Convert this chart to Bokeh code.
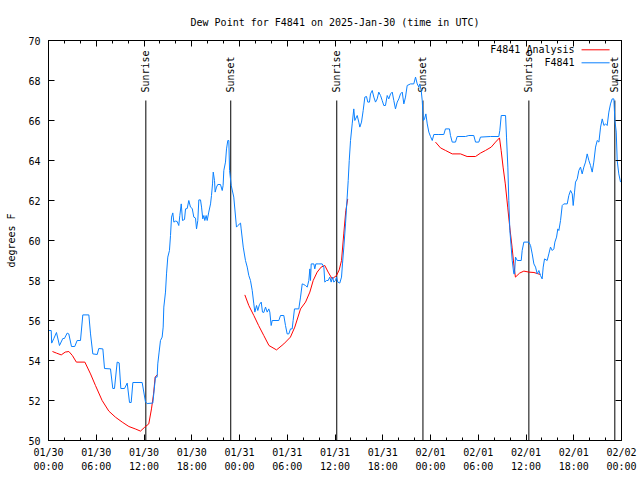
import math
from bokeh.plotting import figure
from bokeh.models import FixedTicker, LinearAxis, Range1d, Label, ColumnDataSource
from bokeh.core.properties import value
from bokeh.embed import file_html
from bokeh.resources import INLINE

# ---------------- data ----------------
TITLE = "Dew Point for F4841 on 2025-Jan-30 (time in UTC)"
STATION = "F4841"
ANALYSIS = "F4841 Analysis"

# x = hours since 01/30 00:00 UTC
x_ticks = [0, 6, 12, 18, 24, 30, 36, 42, 48, 54, 60, 66, 72]
x_tick_labels = ["01/30\n00:00", "01/30\n06:00", "01/30\n12:00", "01/30\n18:00",
                 "01/31\n00:00", "01/31\n06:00", "01/31\n12:00", "01/31\n18:00",
                 "02/01\n00:00", "02/01\n06:00", "02/01\n12:00", "02/01\n18:00",
                 "02/02\n00:00"]
x_minor = list(range(0, 73, 2))
y_ticks = [50, 52, 54, 56, 58, 60, 62, 64, 66, 68, 70]

# station observations (blue)
obs_hours = [
    0.04, 0.34, 0.40, 0.67, 1.00, 1.38, 1.80, 2.00, 2.35, 2.55,
    2.89, 3.30, 3.60, 4.02, 4.31, 5.07, 5.28, 5.57, 6.12, 6.32,
    6.83, 7.04, 7.79, 8.08, 8.29, 8.63, 8.88, 9.09, 9.55, 9.89,
    10.18, 10.39, 10.60, 11.77, 12.19, 12.40, 13.11, 13.44, 13.65, 13.73,
    13.90, 14.07, 14.28, 14.41, 14.49, 14.70, 14.83, 14.99, 15.20, 15.33,
    15.46, 15.62, 15.75, 15.96, 16.17, 16.37, 16.50, 16.68, 16.84, 17.09,
    17.22, 17.43, 17.63, 17.84, 18.06, 18.26, 18.47, 18.60, 18.76, 18.89,
    19.10, 19.23, 19.39, 19.52, 19.64, 19.81, 19.94, 20.14, 20.36, 20.48,
    20.61, 20.70, 20.86, 20.94, 21.11, 21.27, 21.61, 21.83, 21.94, 22.03,
    22.24, 22.37, 22.53, 22.66, 22.75, 22.96, 23.28, 23.62, 23.79, 24.13,
    24.21, 24.47, 24.75, 24.97, 25.17, 25.38, 25.60, 25.80, 25.93, 26.14,
    26.30, 26.51, 26.73, 26.89, 27.05, 27.27, 27.48, 27.68, 27.81, 27.98,
    28.11, 28.94, 29.15, 29.57, 29.78, 29.99, 30.20, 30.41, 30.62, 30.74,
    30.91, 31.45, 31.67, 31.88, 32.08, 32.29, 32.51, 32.71, 32.84, 32.92,
    33.01, 33.34, 33.46, 33.59, 33.97, 34.39, 34.60, 34.72, 34.93, 35.14,
    35.35, 35.52, 35.69, 35.85, 36.06, 36.19, 36.35, 36.60, 36.82, 36.94,
    37.11, 37.32, 37.53, 37.66, 37.79, 37.95, 38.16, 38.36, 38.49, 38.79,
    38.99, 39.12, 39.33, 39.54, 39.75, 39.96, 40.12, 40.33, 40.46, 40.68,
    40.88, 41.09, 41.30, 41.50, 41.72, 41.93, 42.13, 42.34, 42.56, 42.76,
    42.98, 43.19, 43.39, 43.60, 43.82, 44.02, 44.23, 44.45, 44.65, 44.86,
    45.07, 45.49, 45.90, 46.12, 46.33, 46.53, 46.66, 46.83, 46.96, 47.03,
    47.12, 47.25, 47.42, 47.59, 47.79, 48.00, 48.22, 48.42, 49.05, 49.67,
    49.88, 50.38, 50.51, 50.73, 51.14, 51.35, 52.40, 52.82, 53.44, 53.66,
    54.07, 54.28, 55.54, 56.58, 56.71, 56.89, 57.43, 57.55, 57.72, 57.84,
    57.97, 58.14, 58.27, 58.47, 58.56, 58.68, 58.90, 59.40, 59.52, 59.73,
    60.36, 60.57, 60.78, 60.99, 61.20, 61.41, 61.62, 61.82, 62.03, 62.16,
    62.33, 62.66, 62.87, 63.08, 63.30, 63.50, 63.63, 63.84, 64.00, 64.13,
    64.34, 64.55, 64.75, 65.18, 65.38, 65.60, 65.81, 65.93, 66.10, 66.22,
    66.44, 66.64, 66.85, 67.06, 67.27, 67.48, 67.69, 67.90, 68.11, 68.32,
    68.52, 68.74, 68.95, 69.16, 69.37, 69.58, 69.79, 70.00, 70.20, 70.41,
    70.62, 70.83, 71.04, 71.17, 71.34, 71.46, 71.66, 71.88,
]
obs_dewpoint = [
    55.5, 55.5, 54.87, 55.1, 55.4, 54.75, 55.1, 55.1, 55.37, 55.33,
    54.7, 54.7, 55.0, 55.0, 56.28, 56.28, 55.33, 54.33, 54.3, 54.6,
    54.58, 53.6, 53.58, 52.6, 52.6, 53.92, 53.88, 52.6, 52.6, 52.87,
    51.9, 51.9, 52.9, 52.9, 51.92, 51.85, 51.87, 53.17, 53.17, 53.83,
    54.42, 55.0, 55.17, 55.67, 56.67, 57.42, 58.33, 59.17, 59.5, 60.25,
    61.17, 61.38, 60.92, 60.97, 60.95, 60.75, 61.25, 61.83, 61.0, 61.05,
    61.58, 61.6, 62.0, 61.67, 61.6, 61.17, 61.12, 60.58, 61.0, 62.03,
    62.03, 61.67, 61.08, 61.25, 61.0, 61.25, 61.0, 61.42, 61.83, 62.25,
    62.83, 63.42, 63.0, 62.42, 62.67, 62.8, 62.8, 62.5, 62.75, 63.5,
    63.92, 64.58, 65.0, 65.0, 63.5, 62.75, 62.17, 60.67, 60.75, 60.87,
    60.58, 59.67, 59.0, 58.67, 58.25, 58.0, 57.5, 56.83, 56.42, 56.75,
    56.5, 56.8, 56.92, 56.42, 56.4, 56.67, 56.42, 56.58, 56.42, 55.75,
    56.0, 56.0, 56.25, 56.25, 55.75, 55.33, 55.33, 55.58, 55.58, 56.0,
    56.58, 56.58, 57.17, 57.83, 57.8, 57.75, 57.67, 58.0, 58.58, 58.0,
    58.83, 58.83, 58.58, 58.83, 58.83, 58.83, 58.67, 57.92, 58.0, 58.0,
    58.17, 57.92, 58.17, 57.92, 58.0, 58.17, 57.92, 57.87, 58.17, 58.83,
    59.67, 60.83, 62.17, 63.0, 64.0, 65.0, 65.83, 66.58, 66.0, 66.25,
    65.92, 65.67, 65.92, 66.5, 67.17, 67.2, 66.92, 66.92, 67.33, 67.5,
    67.17, 66.92, 67.08, 67.42, 67.25, 67.0, 66.75, 66.75, 67.25, 67.08,
    67.33, 67.42, 67.0, 66.58, 66.92, 67.08, 67.33, 67.42, 66.83, 67.17,
    67.75, 67.83, 67.83, 68.17, 67.83, 67.67, 67.83, 67.5, 67.0, 66.5,
    66.0, 66.08, 66.33, 65.83, 65.42, 65.2, 65.0, 65.3, 65.3, 65.3,
    65.58, 65.58, 65.25, 64.92, 64.92, 65.2, 65.2, 65.25, 65.25, 64.92,
    64.92, 65.17, 65.2, 65.2, 65.5, 66.25, 66.25, 65.17, 63.67, 62.0,
    60.5, 59.67, 59.0, 58.33, 58.33, 59.17, 59.0, 59.0, 59.5, 59.92,
    59.92, 59.75, 59.33, 58.83, 58.67, 58.33, 58.5, 58.25, 58.08, 58.67,
    59.08, 59.0, 59.33, 59.67, 59.5, 59.58, 59.92, 60.17, 60.58, 60.5,
    61.0, 61.75, 61.83, 61.83, 62.25, 62.5, 62.33, 61.75, 62.42, 62.92,
    63.08, 63.5, 63.67, 63.33, 63.67, 63.92, 64.33, 64.0, 63.75, 63.42,
    63.92, 64.67, 65.0, 64.92, 65.67, 66.08, 65.75, 65.83, 65.75, 66.42,
    66.83, 67.08, 67.08, 66.0, 65.42, 64.0, 63.33, 62.92,
]

# analysis (red); NaN separates the three pieces
nan = float("nan")
ana_hours = [
    0.5, 1.0, 1.6, 2.1, 2.56, 3.0, 3.5, 4.57, 5.28, 5.9, 6.74, 7.58, 8.4,
    9.26, 10.1, 10.9, 11.56, 12.1, 12.6, 12.94, 13.2, 13.4, 13.7,
    nan,
    24.67, 25.17, 25.8, 26.4, 27.05, 27.7, 28.65, 29.57, 30.4, 30.95, 31.67,
    32.3, 32.84, 33.26, 33.76, 34.26, 34.72, 35.14, 35.65, 36.19, 36.53,
    36.82, 37.1, 37.36, 37.6,
    nan,
    48.63, 49.26, 49.9, 50.73, 51.77, 52.6, 53.66, 54.28, 54.9, 55.63, 56.17,
    56.67, 56.88, 57.12, 57.4, 57.7, 57.96, 58.25, 58.46, 58.67, 59.2, 59.73,
    60.35, 61.0, 61.8,
]
ana_dewpoint = [
    54.45, 54.37, 54.28, 54.42, 54.45, 54.25, 53.92, 53.92, 53.33, 52.75,
    52.0, 51.47, 51.17, 50.92, 50.7, 50.58, 50.47, 50.67, 50.83, 51.58,
    52.33, 53.17, 53.3,
    nan,
    57.28, 56.75, 56.25, 55.75, 55.25, 54.75, 54.53, 54.83, 55.17, 55.67,
    56.58, 56.92, 57.42, 58.0, 58.42, 58.67, 58.75, 58.42, 58.08, 58.25,
    58.53, 59.0, 60.33, 61.5, 62.08,
    nan,
    64.92, 64.63, 64.5, 64.33, 64.33, 64.2, 64.2, 64.37, 64.5, 64.67, 64.92,
    65.13, 64.5, 63.67, 62.83, 61.67, 60.67, 59.67, 58.83, 58.17, 58.37,
    58.47, 58.42, 58.4, 58.3,
]

event_hours = [12.23, 22.9, 36.22, 47.05, 60.36, 71.16]
event_names = ["Sunrise", "Sunset", "Sunrise", "Sunset", "Sunrise", "Sunset"]

# ---------------- style ----------------
FONT = "DejaVu Sans Mono"
FS = "10px"
BLUE = "#0a80ff"
RED = "#ff0000"
Y0, Y1 = 50, 70
X0, X1 = 0, 72
EVENT_TOP = 67.0
EVENT_LABEL_Y = 67.4

p = figure(width=640, height=480, output_backend="svg", toolbar_location=None,
           x_range=Range1d(X0, X1), y_range=Range1d(Y0, Y1),
           min_border_left=48, min_border_right=19,
           min_border_top=40, min_border_bottom=40,
           background_fill_color="white", border_fill_color="white")
p.outline_line_color = "black"
p.grid.visible = False

p.title.text = TITLE
p.title.align = "center"
p.title.text_font = FONT
p.title.text_font_size = FS
p.title.text_font_style = "normal"
p.title.text_color = "black"
p.title.standoff = 26

def style_axis(ax, show_labels=True):
    ax.axis_line_color = "black"
    ax.major_tick_line_color = "black"
    ax.minor_tick_line_color = "black"
    ax.major_tick_in = 6
    ax.major_tick_out = 0
    ax.minor_tick_in = 3
    ax.minor_tick_out = 0
    ax.major_label_text_font = FONT
    ax.major_label_text_font_size = FS if show_labels else "1px"
    ax.major_label_text_color = "black" if show_labels else None
    ax.axis_label_text_font = FONT
    ax.axis_label_text_font_size = FS
    ax.axis_label_text_font_style = "normal"
    ax.axis_label_text_color = "black"

xax = p.xaxis[0]
xax.ticker = FixedTicker(ticks=x_ticks, minor_ticks=x_minor)
xax.major_label_overrides = {t: l for t, l in zip(x_ticks, x_tick_labels)}
style_axis(xax)
xax.major_label_standoff = 6
xax.major_label_text_line_height = 1.3

yax = p.yaxis[0]
yax.ticker = FixedTicker(ticks=y_ticks, minor_ticks=[])
yax.axis_label = "degrees F"
style_axis(yax)
yax.major_label_standoff = 8
yax.axis_label_standoff = 8

top = LinearAxis(ticker=FixedTicker(ticks=x_ticks, minor_ticks=x_minor))
style_axis(top, False)
top.major_label_standoff = 0
p.add_layout(top, "above")

right = LinearAxis(ticker=FixedTicker(ticks=y_ticks, minor_ticks=[]))
style_axis(right, False)
right.major_label_standoff = 0
p.add_layout(right, "right")

# sunrise / sunset markers
ev = ColumnDataSource(dict(x=event_hours, name=event_names,
                           y0=[Y0] * len(event_hours),
                           y1=[EVENT_TOP] * len(event_hours),
                           ly=[EVENT_LABEL_Y] * len(event_hours)))
p.segment(x0="x", y0="y0", x1="x", y1="y1", source=ev, line_color="black", line_width=1)
p.text(x="x", y="ly", text="name", source=ev, angle=math.pi / 2,
       text_align="left", text_baseline="middle", text_font=value(FONT),
       text_font_size=FS, text_color="black")

# data lines
p.line(ana_hours, ana_dewpoint, line_color=RED, line_width=1)
p.line(obs_hours, obs_dewpoint, line_color=BLUE, line_width=1)

# legend (gnuplot style: text right-aligned, sample on the right)
LEG_TEXT_X = 66.1
LEG_S0, LEG_S1 = 66.98, 70.5
LEG_Y = [69.535, 68.885]
for name, col, yy in [(ANALYSIS, RED, LEG_Y[0]), (STATION, BLUE, LEG_Y[1])]:
    p.add_layout(Label(x=LEG_TEXT_X, y=yy, text=name, text_align="right",
                       text_baseline="middle", text_font=FONT, text_font_size=FS,
                       text_color="black"))
    p.segment(x0=[LEG_S0], y0=[yy], x1=[LEG_S1], y1=[yy], line_color=col, line_width=1)

open("out.html", "w").write(file_html(p, INLINE))
